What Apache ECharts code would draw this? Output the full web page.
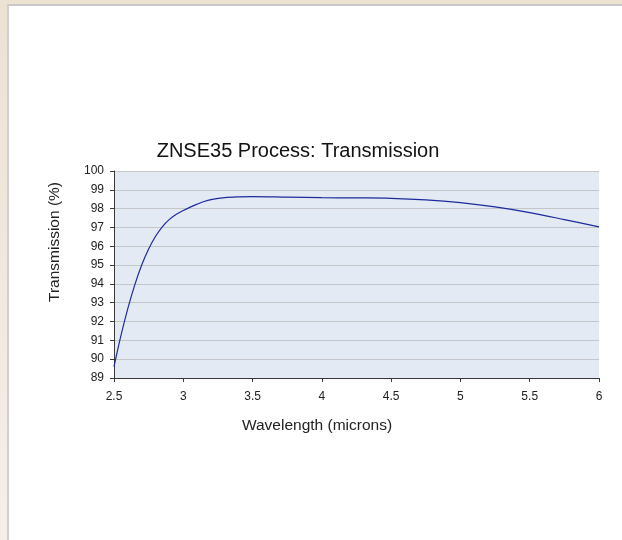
<!DOCTYPE html>
<html>
<head>
<meta charset="utf-8">
<script src="https://cdn.jsdelivr.net/npm/echarts@6/dist/echarts.min.js"></script>
<style>
  html, body { margin:0; padding:0; width:622px; height:540px; overflow:hidden;
    background: linear-gradient(to bottom, #ece2d2 0%, #f1e8de 50%, #f6efe9 100%); }
  #panel { position:absolute; left:7px; top:4px; width:700px; height:600px;
    background:#ffffff; border-left:2px solid #cfcfd2; border-top:2px solid #c9c9cc; }
  #chart { position:absolute; left:0; top:0; width:622px; height:540px; }
</style>
</head>
<body>
<div id="panel"></div>
<div id="chart"></div>
<script>
const wavelength = [2.5, 2.55, 2.6, 2.65, 2.7, 2.75, 2.8, 2.85, 2.9, 2.95, 3.0, 3.05, 3.1, 3.15, 3.2, 3.3, 3.4, 3.5, 3.75, 4.0, 4.25, 4.5, 4.75, 5.0, 5.25, 5.5, 5.75, 6.0];
const transmission = [89.6, 91.25, 92.7, 93.95, 95.0, 95.85, 96.53, 97.05, 97.43, 97.7, 97.9, 98.08, 98.24, 98.38, 98.48, 98.59, 98.63, 98.64, 98.61, 98.58, 98.57, 98.55, 98.47, 98.32, 98.09, 97.79, 97.42, 97.03];
const titleText = 'ZNSE35 Process: Transmission';
const xName = 'Wavelength (microns)';
const yName = 'Transmission (%)';

const chart = echarts.init(document.getElementById('chart'), null, {renderer:'canvas'});
const font = '"Liberation Sans", Arial, sans-serif';
chart.setOption({
  animation: false,
  backgroundColor: 'transparent',
  grid: { left: 114, right: 23, top: 171, bottom: 162, containLabel: false,
          show: true, backgroundColor: '#e3eaf3', borderWidth: 0 },
  xAxis: {
    type: 'value', min: 2.5, max: 6, interval: 0.5,
    axisLine: { show: true, onZero: false, lineStyle: { color: '#3a3a3a', width: 1 } },
    axisTick: { show: true, length: 4, lineStyle: { color: '#3a3a3a' } },
    axisLabel: { margin: 13, color: '#222', fontSize: 12, fontFamily: font },
    splitLine: { show: false }
  },
  yAxis: {
    type: 'value', min: 89, max: 100, interval: 1,
    axisLine: { show: true, lineStyle: { color: '#3a3a3a', width: 1 } },
    axisTick: { show: true, length: 4, lineStyle: { color: '#3a3a3a' } },
    axisLabel: { margin: 10, color: '#222', fontSize: 12, fontFamily: font },
    splitLine: { show: true, lineStyle: { color: '#c4c6c9', width: 1 } }
  },
  series: [{
    type: 'line',
    data: wavelength.map((x, i) => [x, transmission[i]]),
    smooth: 0.35,
    showSymbol: false,
    lineStyle: { color: '#1c2a9c', width: 1.2 },
    clip: true
  }],
  graphic: [
    { type: 'text', x: 298, y: 151,
      style: { text: titleText, font: '20px ' + font, fill: '#111', textAlign: 'center', textVerticalAlign: 'middle' } },
    { type: 'text', x: 317, y: 426,
      style: { text: xName, font: '15.5px ' + font, fill: '#222', textAlign: 'center', textVerticalAlign: 'middle' } },
    { type: 'text', rotation: Math.PI / 2, x: 55, y: 242,
      style: { text: yName, font: '15.5px ' + font, fill: '#222', textAlign: 'center', textVerticalAlign: 'middle' } }
  ]
});
</script>
</body>
</html>
